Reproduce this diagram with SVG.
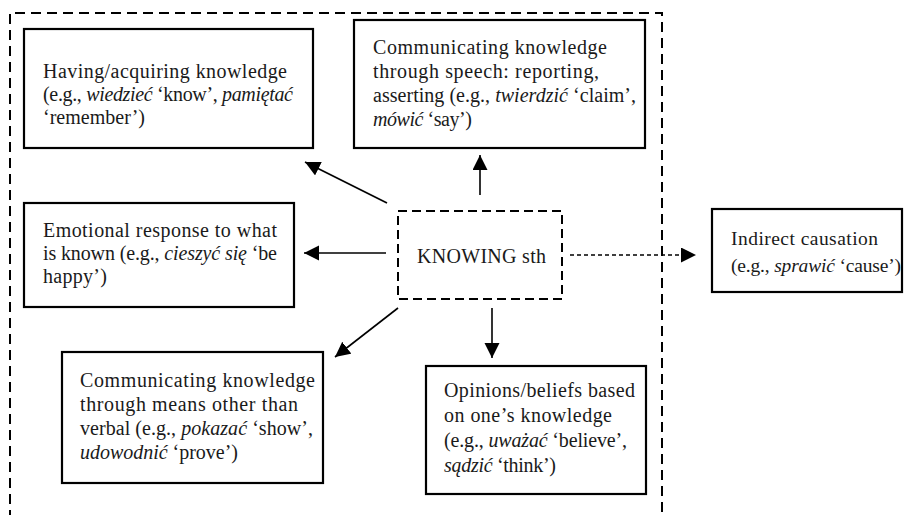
<svg xmlns="http://www.w3.org/2000/svg" width="905" height="515" viewBox="0 0 905 515">
<style>
  .box { fill: #fff; stroke: #000; stroke-width: 2.2; }
  .dbox { fill: #fff; stroke: #000; stroke-width: 2; stroke-dasharray: 9 5; }
  .outer { fill: none; stroke: #000; stroke-width: 2; stroke-dasharray: 10 6; }
  .t { font-family: "Liberation Serif", "Times New Roman", serif; font-size: 20px; fill: #1a1a1a; }
  .s { font-size: 19.5px; }
  .i { font-style: italic; }
  .ln { stroke: #000; stroke-width: 1.6; fill: none; marker-end: url(#ah); }
  .dl { stroke: #000; stroke-width: 1.6; fill: none; stroke-dasharray: 4 3; marker-end: url(#ah); }
</style>
<defs>
  <marker id="ah" markerUnits="userSpaceOnUse" markerWidth="16" markerHeight="16" refX="15" refY="7.5" orient="auto">
    <path d="M0,0 L15,7.5 L0,15 z" fill="#000"/>
  </marker>
</defs>
<rect width="905" height="515" fill="#fff"/>
<path class="outer" d="M10,520 V13 H662 V520"/>

<g id="connectors">
  <line class="ln" x1="387" y1="203" x2="305" y2="162"/>
  <line class="ln" x1="480" y1="195" x2="480" y2="155"/>
  <line class="ln" x1="386" y1="253" x2="304" y2="253"/>
  <line class="ln" x1="398" y1="308" x2="335" y2="357"/>
  <line class="ln" x1="492" y1="308" x2="492" y2="358"/>
  <line class="dl" x1="570" y1="255" x2="696" y2="255"/>
</g>

<g id="knowing">
  <rect class="dbox" x="398" y="211" width="164" height="88"/>
  <text class="t" x="417" y="263" textLength="129">KNOWING sth</text>
</g>

<g id="having">
  <rect class="box" x="24" y="29" width="289" height="119"/>
  <text class="t" x="43" y="78" textLength="244">Having/acquiring knowledge</text>
  <text class="t" x="43" y="101" textLength="250">(e.g., <tspan class="i">wiedzieć</tspan> ‘know’, <tspan class="i">pamiętać</tspan></text>
  <text class="t" x="43" y="124" textLength="102">‘remember’)</text>
</g>

<g id="speech">
  <rect class="box" x="354" y="20" width="291" height="128"/>
  <text class="t" x="373" y="54" textLength="234">Communicating knowledge</text>
  <text class="t" x="373" y="78" textLength="226">through speech: reporting,</text>
  <text class="t" x="373" y="102" textLength="263">asserting (e.g., <tspan class="i">twierdzić</tspan> ‘claim’,</text>
  <text class="t" x="373" y="126" textLength="99"><tspan class="i">mówić</tspan> ‘say’)</text>
</g>

<g id="emotional">
  <rect class="box" x="24" y="203" width="270" height="104"/>
  <text class="t" x="43" y="237" textLength="234">Emotional response to what</text>
  <text class="t" x="43" y="260" textLength="234">is known (e.g., <tspan class="i">cieszyć się</tspan> ‘be</text>
  <text class="t" x="43" y="283" textLength="64">happy’)</text>
</g>

<g id="means">
  <rect class="box" x="62" y="352" width="261" height="131"/>
  <text class="t" x="80" y="387" textLength="235">Communicating knowledge</text>
  <text class="t" x="80" y="411" textLength="218">through means other than</text>
  <text class="t" x="80" y="435" textLength="233">verbal (e.g., <tspan class="i">pokazać</tspan>  ‘show’,</text>
  <text class="t" x="80" y="459" textLength="158"><tspan class="i">udowodnić</tspan> ‘prove’)</text>
</g>

<g id="opinions">
  <rect class="box" x="426" y="366" width="220" height="128"/>
  <text class="t" x="444" y="397" textLength="191">Opinions/beliefs based</text>
  <text class="t" x="444" y="422" textLength="168">on one’s knowledge</text>
  <text class="t" x="444" y="447" textLength="183">(e.g., <tspan class="i">uważać</tspan> ‘believe’,</text>
  <text class="t" x="444" y="472" textLength="112"><tspan class="i">sądzić</tspan> ‘think’)</text>
</g>

<g id="indirect">
  <rect class="box" x="712" y="209" width="190" height="83"/>
  <text class="t s" x="731" y="245" textLength="147">Indirect causation</text>
  <text class="t s" x="731" y="272" textLength="170">(e.g., <tspan class="i">sprawić</tspan> ‘cause’)</text>
</g>
</svg>
